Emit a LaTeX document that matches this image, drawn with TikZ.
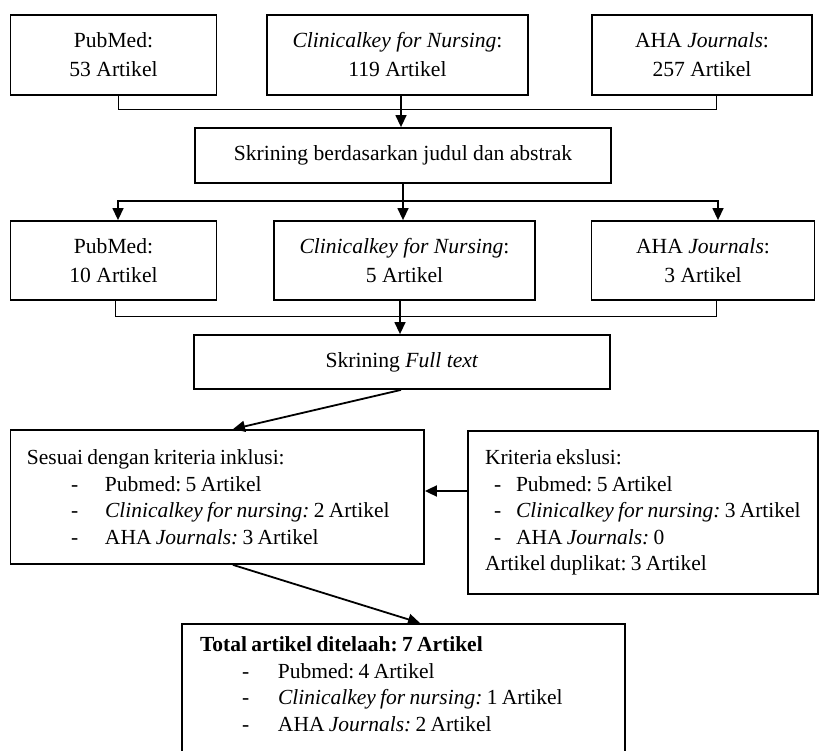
\documentclass[tikz,border=0pt]{standalone}
\usepackage{fontspec}
\setmainfont{Liberation Serif}
\usetikzlibrary{arrows.meta}
\setlength{\parindent}{0pt}
\hyphenpenalty=10000
\exhyphenpenalty=10000
\frenchspacing
\newcommand{\tightsp}{\spaceskip=0.2em plus 0.1em\relax}
\begin{document}
\begin{tikzpicture}[x=1pt,y=-1pt,
  box/.style={draw, line width=1.8pt, inner sep=0pt, font=\fontsize{21.6}{29}\selectfont, align=center},
  listbox/.style={draw, line width=1.8pt, font=\fontsize{21.5}{26.5}\selectfont, align=left, inner xsep=5pt, inner ysep=0pt, execute at begin node=\tightsp},
  conn/.style={line width=1pt},
  arr/.style={line width=1.4pt, -{Triangle[length=12pt,width=11pt]}},
  darr/.style={line width=1.8pt, -{Triangle[length=12pt,width=11pt]}},
]
\useasboundingbox (0,0) rectangle (822,751);
\clip (0,0) rectangle (822,751);
% row 1
\node[box, minimum width=206pt, minimum height=80pt] (a1) at (113.5,55) {PubMed:\\53 Artikel};
\node[box, minimum width=261pt, minimum height=80pt] (b1) at (397.5,55) {\textit{Clinicalkey for Nursing}:\\119 Artikel};
\node[box, minimum width=220pt, minimum height=80pt] (c1) at (702,55) {AHA \textit{Journals}:\\257 Artikel};
\node[box, minimum width=416pt, minimum height=55pt] (s1) at (403,155.5) {Skrining berdasarkan judul dan abstrak};
% row 2
\node[box, minimum width=206pt, minimum height=79pt] (a2) at (113.5,260.5) {PubMed:\\10 Artikel};
\node[box, minimum width=261pt, minimum height=79pt] (b2) at (404.5,260.5) {\textit{Clinicalkey for Nursing}:\\5 Artikel};
\node[box, minimum width=223pt, minimum height=79pt] (c2) at (703,260.5) {AHA \textit{Journals}:\\3 Artikel};
\node[box, minimum width=416pt, minimum height=54pt] (s2) at (402,362) {Skrining \textit{Full text}};
% inclusion / exclusion
\node[listbox, text width=403.5pt, minimum height=134pt] (inc) at (217.25,497) {%
\hspace*{11.5pt}Sesuai dengan kriteria inklusi:\\
\hspace*{55.5pt}\makebox[34pt][l]{-}Pubmed: 5 Artikel\\
\hspace*{55.5pt}\makebox[34pt][l]{-}\textit{Clinicalkey for nursing:} 2 Artikel\\
\hspace*{55.5pt}\makebox[34pt][l]{-}AHA \textit{Journals:} 3 Artikel};
\node[listbox, text width=340pt, minimum height=163pt] (exc) at (643,512.5) {%
\hspace*{12pt}Kriteria ekslusi:\\
\hspace*{21pt}\makebox[22pt][l]{-}Pubmed: 5 Artikel\\
\hspace*{21pt}\makebox[22pt][l]{-}\textit{Clinicalkey for nursing:} 3 Artikel\\
\hspace*{21pt}\makebox[22pt][l]{-}AHA \textit{Journals:} 0\\
\hspace*{12pt}Artikel duplikat: 3 Artikel};
% total
\node[listbox, text width=433pt, inner ysep=13pt, anchor=north] (tot) at (403.5,623) {%
\hspace*{13pt}\textbf{Total artikel ditelaah: 7 Artikel}\\
\hspace*{55pt}\makebox[36pt][l]{-}Pubmed: 4 Artikel\\
\hspace*{55pt}\makebox[36pt][l]{-}\textit{Clinicalkey for nursing:} 1 Artikel\\
\hspace*{55pt}\makebox[36pt][l]{-}AHA \textit{Journals:} 2 Artikel\\
\mbox{}\\
\mbox{}};
% connectors row 1 -> s1
\draw[conn] ([xshift=4.5pt]a1.south) -- ++(0,14) -| ([xshift=14pt]c1.south);
\draw[arr] ([xshift=3.5pt]b1.south) -- ([xshift=3.5pt]b1.south |- s1.north);
% s1 -> row 2
\coordinate (j1) at ([yshift=-17pt]s1.south);
\draw[arr] (s1.south) -- (j1) -| ([xshift=4.5pt]a2.north);
\draw[arr] (j1) -| ([xshift=15pt]c2.north);
\draw[arr] (j1) -- (j1 |- b2.north);
% row 2 -> s2
\draw[conn] ([xshift=1.5pt]a2.south) -- ++(0,16) -| ([xshift=13pt]c2.south);
\draw[arr] ([xshift=-4.5pt]b2.south) -- ([xshift=-4.5pt]b2.south |- s2.north);
% diagonals
\draw[darr] ([xshift=-1pt]s2.south) -- ([xshift=15.75pt]inc.north);
\draw[darr] ([xshift=15.75pt]inc.south) -- ([xshift=16.5pt]tot.north);
\coordinate (e1) at ([yshift=21.5pt]exc.west);
\draw[darr] (e1) -- (e1 -| inc.east);
\end{tikzpicture}
\end{document}
